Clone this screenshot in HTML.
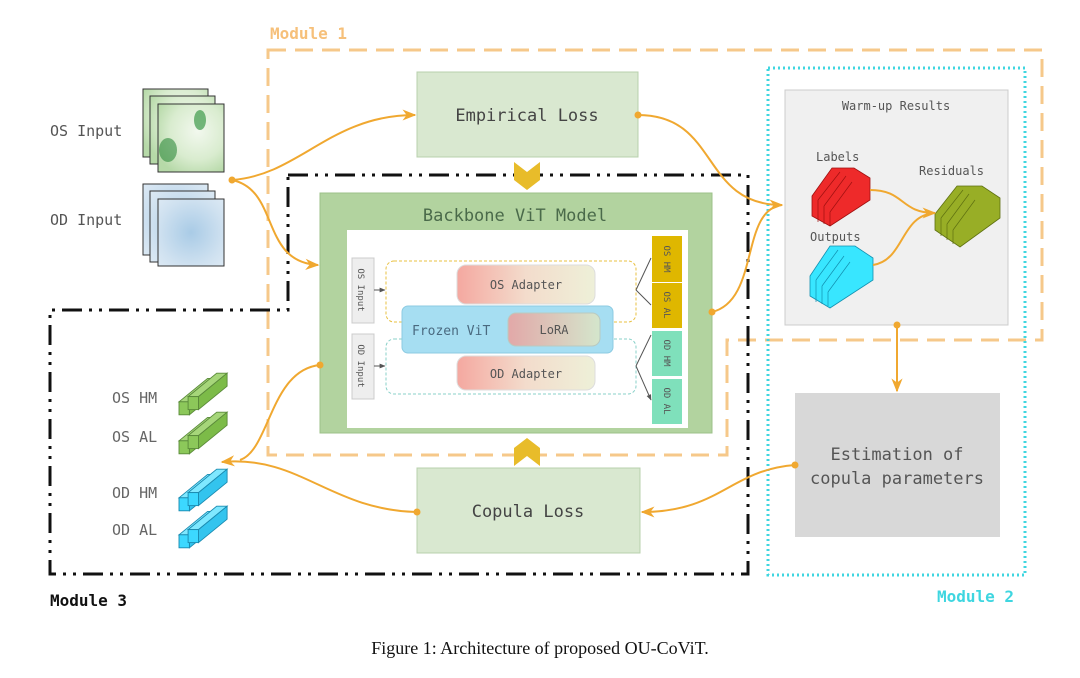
<!DOCTYPE html>
<html><head><meta charset="utf-8"><style>
html,body{margin:0;padding:0;background:#fff;}
svg{display:block;}
.m{font-family:"DejaVu Sans Mono","Liberation Mono",monospace;}
</style></head><body>
<svg width="1080" height="678" viewBox="0 0 1080 678" xmlns="http://www.w3.org/2000/svg">
<defs>
<linearGradient id="ad" x1="0" x2="1" y1="0" y2="0"><stop offset="0" stop-color="#f4a8a0"/><stop offset="0.5" stop-color="#f3dccc"/><stop offset="1" stop-color="#eef0d8"/></linearGradient>
<linearGradient id="lo" x1="0" x2="1"><stop offset="0" stop-color="#e2a8a8"/><stop offset="1" stop-color="#d4e6cc"/></linearGradient>
<radialGradient id="gr" cx="0.6" cy="0.4" r="0.7"><stop offset="0" stop-color="#f2f8ee"/><stop offset="0.6" stop-color="#d9eccf"/><stop offset="1" stop-color="#b6d9a8"/></radialGradient>
<radialGradient id="bl" cx="0.5" cy="0.5" r="0.7"><stop offset="0" stop-color="#a9cbe6"/><stop offset="0.7" stop-color="#cfe1f0"/><stop offset="1" stop-color="#dce9f4"/></radialGradient>
<marker id="ar" viewBox="0 0 10 10" refX="9" refY="5" markerWidth="7" markerHeight="7" orient="auto"><path d="M0,1 L10,5 L0,9 L3,5z" fill="#f0a830"/></marker>
<marker id="ak" viewBox="0 0 10 10" refX="9" refY="5" markerWidth="6" markerHeight="6" orient="auto"><path d="M0,1 L10,5 L0,9z" fill="#555"/></marker>
<g id="gb"><polygon points="0,12 22,-6 30,-6 8,12" fill="#a6d67a" stroke="#5a8a3a" stroke-width="0.7"/><polygon points="8,12 30,-6 30,4 8,22" fill="#7cbb48" stroke="#5a8a3a" stroke-width="0.7"/><rect x="0" y="12" width="8" height="10" fill="#8cc85a" stroke="#5a8a3a" stroke-width="0.7"/></g>
<g id="cb"><polygon points="0,12 22,-6 30,-6 8,12" fill="#7fe8ff" stroke="#1a8ab0" stroke-width="0.7"/><polygon points="8,12 30,-6 30,4 8,22" fill="#33c4ee" stroke="#1a8ab0" stroke-width="0.7"/><rect x="0" y="12" width="8" height="10" fill="#3cd8ff" stroke="#1a8ab0" stroke-width="0.7"/></g>
</defs>

<path d="M268,50 L1042,50 L1042,340 L727,340 L727,455 L268,455 Z" fill="none" stroke="#f6c88a" stroke-width="3" stroke-dasharray="18,9"/>
<rect x="768" y="68" width="257" height="507" fill="none" stroke="#3fd6e0" stroke-width="3" stroke-dasharray="2,3"/>
<path d="M288,175 L748,175 L748,574 L50,574 L50,310 L288,310 Z" fill="none" stroke="#111" stroke-width="3" stroke-dasharray="20,7,3,7,3,7"/>

<text x="270" y="39" class="m" font-size="16" font-weight="bold" fill="#f6c07a">Module 1</text>
<text x="937" y="602" class="m" font-size="16" font-weight="bold" fill="#3fd6e0">Module 2</text>
<text x="50" y="606" class="m" font-size="16" font-weight="bold" fill="#111">Module 3</text>

<text x="50" y="136" class="m" font-size="15" fill="#555">OS Input</text>
<text x="50" y="225" class="m" font-size="15" fill="#555">OD Input</text>
<rect x="143" y="89" width="65" height="68" fill="url(#gr)" stroke="#333"/>
<rect x="150" y="96" width="65" height="68" fill="url(#gr)" stroke="#333"/>
<rect x="158" y="104" width="66" height="68" fill="url(#gr)" stroke="#333"/>
<ellipse cx="200" cy="120" rx="6" ry="10" fill="#3d9a4a" opacity="0.7"/>
<ellipse cx="168" cy="150" rx="9" ry="12" fill="#2f8a3c" opacity="0.6"/>
<rect x="143" y="184" width="65" height="71" fill="url(#bl)" stroke="#333"/>
<rect x="150" y="191" width="65" height="71" fill="url(#bl)" stroke="#333"/>
<rect x="158" y="199" width="66" height="67" fill="url(#bl)" stroke="#333"/>

<rect x="417" y="72" width="221" height="85" fill="#d9e8d0" stroke="#b8d0ad"/>
<text x="527" y="121" text-anchor="middle" class="m" font-size="17" fill="#444">Empirical Loss</text>
<rect x="417" y="468" width="223" height="85" fill="#d9e8d0" stroke="#b8d0ad"/>
<text x="528" y="517" text-anchor="middle" class="m" font-size="17" fill="#444">Copula Loss</text>
<polygon points="514,162 527,172 540,162 540,180 527,190 514,180" fill="#e8bc2a"/>
<polygon points="514,466 527,456 540,466 540,448 527,438 514,448" fill="#e8bc2a"/>

<rect x="320" y="193" width="392" height="240" fill="#b2d39f" stroke="#9cc08a"/>
<text x="515" y="221" text-anchor="middle" class="m" font-size="17" fill="#4a6a4a">Backbone ViT Model</text>
<rect x="347" y="230" width="341" height="198" fill="#fff"/>
<rect x="352" y="258" width="22" height="65" fill="#eee" stroke="#ccc"/>
<text transform="translate(358,290) rotate(90)" text-anchor="middle" class="m" font-size="9" fill="#555">OS Input</text>
<rect x="352" y="334" width="22" height="65" fill="#eee" stroke="#ccc"/>
<text transform="translate(358,366) rotate(90)" text-anchor="middle" class="m" font-size="9" fill="#555">OD Input</text>
<line x1="374" y1="290" x2="385" y2="290" stroke="#555" marker-end="url(#ak)"/>
<line x1="374" y1="366" x2="385" y2="366" stroke="#555" marker-end="url(#ak)"/>
<rect x="386" y="261" width="250" height="61" rx="8" fill="none" stroke="#e8c040" stroke-dasharray="3,2"/>
<rect x="386" y="339" width="250" height="55" rx="8" fill="none" stroke="#88d0c8" stroke-dasharray="3,2"/>
<rect x="457" y="265" width="138" height="39" rx="9" fill="url(#ad)" stroke="#ddd"/>
<text x="526" y="289" text-anchor="middle" class="m" font-size="12" fill="#555">OS Adapter</text>
<rect x="402" y="306" width="211" height="47" rx="6" fill="#a6def2" stroke="#8ccbe2"/>
<text x="412" y="335" class="m" font-size="13" fill="#4a6a80">Frozen ViT</text>
<rect x="508" y="313" width="92" height="33" rx="8" fill="url(#lo)" stroke="#b9c9c0"/>
<text x="554" y="334" text-anchor="middle" class="m" font-size="12" fill="#555">LoRA</text>
<rect x="457" y="356" width="138" height="34" rx="9" fill="url(#ad)" stroke="#ddd"/>
<text x="526" y="378" text-anchor="middle" class="m" font-size="12" fill="#555">OD Adapter</text>
<path d="M636,290 L651,258 M636,290 L651,305 M636,366 L651,335 M636,366 L651,400" stroke="#555" fill="none" marker-end="url(#ak)"/>
<rect x="652" y="236" width="30" height="46" fill="#dfb700"/>
<rect x="652" y="283" width="30" height="45" fill="#dfb700"/>
<rect x="652" y="331" width="30" height="45" fill="#7fe0bb"/>
<rect x="652" y="379" width="30" height="45" fill="#7fe0bb"/>
<g class="m" font-size="9" fill="#555" text-anchor="middle">
<text transform="translate(664,259) rotate(90)">OS HM</text>
<text transform="translate(664,305) rotate(90)">OS AL</text>
<text transform="translate(664,353) rotate(90)">OD HM</text>
<text transform="translate(664,401) rotate(90)">OD AL</text>
</g>

<rect x="785" y="90" width="223" height="235" fill="#f0f0f0" stroke="#ccc"/>
<text x="896" y="110" text-anchor="middle" class="m" font-size="12" fill="#555">Warm-up Results</text>
<text x="816" y="161" class="m" font-size="12" fill="#555">Labels</text>
<text x="919" y="175" class="m" font-size="12" fill="#555">Residuals</text>
<text x="810" y="241" class="m" font-size="12" fill="#555">Outputs</text>
<polygon points="812,196 832,168 854,168 870,178 870,200 830,226 812,216" fill="#ee2a2a" stroke="#a01010" stroke-width="0.8"/>
<g stroke="#a01010" stroke-width="0.7" fill="none"><path d="M818,200 L840,172 M824,206 L846,176 M830,212 L852,182 M818,200 L818,222 M824,206 L824,224 M830,212 L830,226"/></g>
<polygon points="810,276 830,246 855,246 873,258 873,280 830,308 810,296" fill="#38e6ff" stroke="#1290b0" stroke-width="0.8"/>
<g stroke="#1290b0" stroke-width="0.7" fill="none"><path d="M816,280 L838,250 M822,286 L844,256 M828,292 L850,262 M816,280 L816,302 M822,286 L822,304 M828,292 L828,306"/></g>
<polygon points="935,214 957,186 982,186 1000,198 1000,218 960,247 935,230" fill="#98ae26" stroke="#5e7010" stroke-width="0.8"/>
<g stroke="#5e7010" stroke-width="0.7" fill="none"><path d="M941,218 L963,190 M947,224 L969,194 M953,230 L975,200 M941,218 L941,236 M947,224 L947,240 M953,230 L953,244"/></g>
<path d="M870,190 C905,190 900,213 935,213" fill="none" stroke="#f0a830" stroke-width="2" marker-end="url(#ar)"/>
<path d="M873,265 C905,260 900,215 935,213" fill="none" stroke="#f0a830" stroke-width="2"/>

<rect x="795" y="393" width="205" height="144" fill="#d8d8d8"/>
<text x="897" y="460" text-anchor="middle" class="m" font-size="17" fill="#555">Estimation of</text>
<text x="897" y="484" text-anchor="middle" class="m" font-size="17" fill="#555">copula parameters</text>

<g class="m" font-size="15" fill="#666">
<text x="112" y="403">OS HM</text><text x="112" y="442">OS AL</text>
<text x="112" y="498">OD HM</text><text x="112" y="535">OD AL</text>
</g>
<g transform="translate(179,381) scale(1.3)"><use href="#gb" x="0" y="4"/><use href="#gb" x="7" y="0"/></g>
<g transform="translate(179,420) scale(1.3)"><use href="#gb" x="0" y="4"/><use href="#gb" x="7" y="0"/></g>
<g transform="translate(179,477) scale(1.3)"><use href="#cb" x="0" y="4"/><use href="#cb" x="7" y="0"/></g>
<g transform="translate(179,514) scale(1.3)"><use href="#cb" x="0" y="4"/><use href="#cb" x="7" y="0"/></g>

<g fill="none" stroke="#f0a830" stroke-width="2">
<path d="M232,180 C300,175 330,115 415,115" marker-end="url(#ar)"/>
<path d="M232,180 C280,190 260,262 318,265" marker-end="url(#ar)"/>
<path d="M638,115 C720,115 700,205 782,205" marker-end="url(#ar)"/>
<path d="M712,312 C760,300 740,210 782,205"/>
<path d="M897,325 L897,391" marker-end="url(#ar)"/>
<path d="M795,465 C730,470 720,512 642,512" marker-end="url(#ar)"/>
<path d="M417,512 C330,510 300,455 222,462" marker-end="url(#ar)"/>
<path d="M320,365 C270,370 270,450 240,460"/>
</g>
<g fill="#f0a830">
<circle cx="232" cy="180" r="3.5"/><circle cx="638" cy="115" r="3.5"/><circle cx="712" cy="312" r="3.5"/>
<circle cx="897" cy="325" r="3.5"/><circle cx="795" cy="465" r="3.5"/><circle cx="417" cy="512" r="3.5"/><circle cx="320" cy="365" r="3.5"/>
</g>

<text x="540" y="654" text-anchor="middle" font-family="'Liberation Serif',serif" font-size="18" fill="#111">Figure 1: Architecture of proposed OU-CoViT.</text>
</svg>
</body></html>
